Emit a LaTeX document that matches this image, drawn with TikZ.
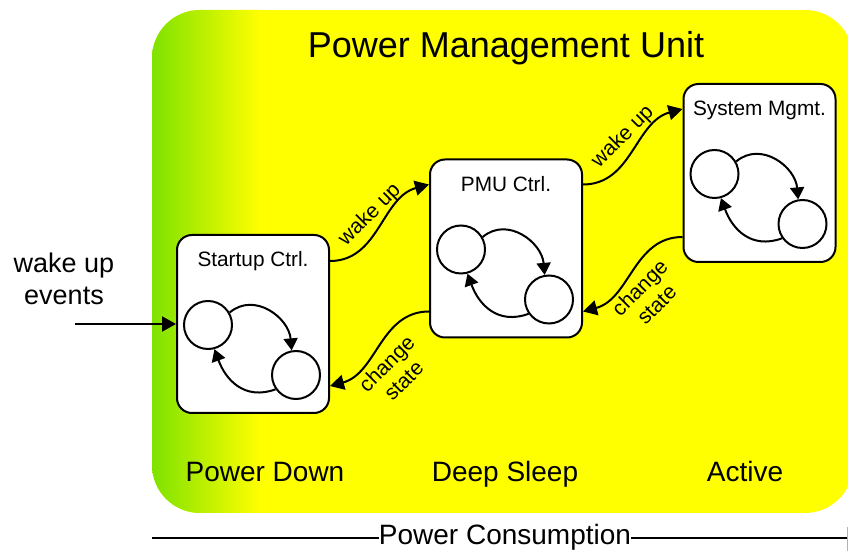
\documentclass[tikz,border=0pt]{standalone}
\usepackage{fontspec}
\setmainfont{Liberation Sans}
\usetikzlibrary{calc,arrows.meta}
\definecolor{pmugreen}{RGB}{126,226,0}
\definecolor{pmuyellow}{RGB}{255,255,0}
\begin{document}
\begin{tikzpicture}[x=1pt,y=1pt,
  box/.style={draw, fill=white, line width=2pt, rounded corners=15pt,
    minimum width=152pt, minimum height=178pt, inner sep=0pt},
  statec/.style={draw, fill=white, circle, line width=2pt, minimum size=48pt, inner sep=0pt},
  conn/.style={line width=2pt, -{Triangle[length=14pt,width=15pt]}},
  inarrow/.style={line width=2pt, -{Triangle[length=12pt,width=14pt]}},
  boxtitle/.style={font=\fontsize{20.8}{24}\selectfont, anchor=base, inner sep=0pt},
  lbl/.style={font=\fontsize{21}{24}\selectfont, rotate=45, align=center, inner sep=0pt},
  big/.style={font=\fontsize{28}{32}\selectfont, anchor=base, inner sep=0pt},
]
\useasboundingbox (0,0) rectangle (848,551);
% background unit
\begin{scope}
  \clip[rounded corners=48pt] (152,38) rectangle (853,541);
  \fill[pmuyellow] (152,38) rectangle (853,541);
  \shade[left color=pmugreen, right color=pmuyellow] (152,38) rectangle (260,541);
\end{scope}
\node[font=\fontsize{36}{40}\selectfont, anchor=base, inner sep=0pt] (title) at (506,493) {Power Management Unit};

% boxes
\node[box] (start) at (253,227) {};
\node[box] (pmu) at (506,302.5) {};
\node[box] (sys) at (759.5,378) {};

\node[boxtitle] (startT) at ($(start.north)+(0,-33)$) {Startup Ctrl.};
\node[boxtitle] (pmuT) at ($(pmu.north)+(0,-33)$) {PMU Ctrl.};
\node[boxtitle] (sysT) at ($(sys.north)+(0,-33)$) {System Mgmt.};

% inner state machines
\node[statec] (startA) at ($(start.north west)+(32,-91)$) {};
\node[statec] (startB) at ($(start.north west)+(120,-141)$) {};
\node[statec] (pmuA) at ($(pmu.north west)+(32,-91)$) {};
\node[statec] (pmuB) at ($(pmu.north west)+(120,-141)$) {};
\node[statec] (sysA) at ($(sys.north west)+(32,-91)$) {};
\node[statec] (sysB) at ($(sys.north west)+(120,-141)$) {};

\draw[inarrow] (startA.30) to[out=40,in=95,looseness=1.15] (startB.100);
\draw[inarrow] (startB.215) to[out=200,in=-70,looseness=1.15] (startA.-75);
\draw[inarrow] (pmuA.30) to[out=40,in=95,looseness=1.15] (pmuB.100);
\draw[inarrow] (pmuB.215) to[out=200,in=-70,looseness=1.15] (pmuA.-75);
\draw[inarrow] (sysA.30) to[out=40,in=95,looseness=1.15] (sysB.100);
\draw[inarrow] (sysB.215) to[out=200,in=-70,looseness=1.15] (sysA.-75);

% connectors
\draw[conn] ($(start.north east)+(0,-27)$) to[out=0,in=195] ($(pmu.north west)+(0,-26)$);
\draw[conn] ($(pmu.north east)+(0,-26)$) to[out=0,in=195] ($(sys.north west)+(0,-26)$);
\draw[conn] ($(sys.south west)+(0,26)$) to[out=180,in=15] ($(pmu.south east)+(0,27)$);
\draw[conn] ($(pmu.south west)+(0,27)$) to[out=180,in=15] ($(start.south east)+(0,28)$);

\node[lbl] (wu1) at (370,336) {wake up};
\node[lbl] (wu2) at (623,414) {wake up};
\node[lbl] (cs1) at (395,179) {change\\state};
\node[lbl] (cs2) at (648,255) {change\\state};

% wake up events
\node[font=\fontsize{27}{32}\selectfont, align=center, inner sep=0pt] (events) at (64,272) {wake up\\events};
\coordinate (wsrc) at (75,227);
\draw[conn] (wsrc) -- (start.west);

% region labels
\node[big] (pdown) at (265,69) {Power Down};
\node[big] (dsleep) at (505,69) {Deep Sleep};
\node[big] (active) at (745,69) {Active};

% power consumption axis
\node[big] (pc) at (505,6) {Power Consumption};
\coordinate (pcL) at (152,13);
\coordinate (pcR) at (848,13);
\draw[line width=2.2pt] (pcL) -- (pc.west |- pcL);
\draw[line width=2.2pt] (pc.east |- pcR) -- (pcR);
\draw[gray!60, line width=0.8pt] (847.5,24) -- (847.5,0);
\end{tikzpicture}
\end{document}
